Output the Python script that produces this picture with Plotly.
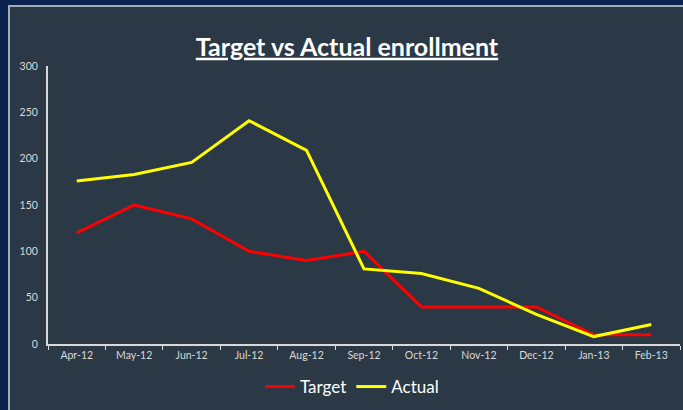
import plotly.graph_objects as go

months = ["Apr-12", "May-12", "Jun-12", "Jul-12", "Aug-12", "Sep-12",
          "Oct-12", "Nov-12", "Dec-12", "Jan-13", "Feb-13"]
target = [120, 150, 135, 100, 90, 100, 40, 40, 40, 10, 10]
actual = [176, 183, 196, 241, 209, 81, 76, 60, 32, 8, 21]
y_ticks = [0, 50, 100, 150, 200, 250, 300]

W, H = 683, 410
L, R, T, B = 48, 3, 66, 66
pw, ph = W - L - R, H - T - B

def px_x(p):
    return (p - L) / pw

def px_y(p):
    return (H - B - p) / ph

fig = go.Figure()
fig.add_trace(go.Scatter(x=months, y=target, mode="lines", name="Target",
                         line=dict(color="#ff0000", width=3)))
fig.add_trace(go.Scatter(x=months, y=actual, mode="lines", name="Actual",
                         line=dict(color="#ffff00", width=3)))

fig.add_shape(type="rect", xref="paper", yref="paper", layer="below",
              x0=px_x(9), x1=px_x(700), y0=px_y(430), y1=px_y(6),
              fillcolor="#2b3845", line=dict(color="#a3abb3", width=2))

fig.update_layout(
    width=W, height=H,
    margin=dict(l=L, r=R, t=T, b=B),
    paper_bgcolor="#0c2350",
    plot_bgcolor="rgba(0,0,0,0)",
    font=dict(family="Lato, Open Sans, sans-serif", color="#d9d9d9"),
    title=dict(text="<b>Target vs Actual enrollment</b>", x=px_x(347), xanchor="center",
               xref="paper", y=1 - 47 / H, yanchor="middle",
               font=dict(size=25, color="#ffffff", family="Lato, Open Sans, sans-serif",
                         lineposition="under")),
    showlegend=True,
    legend=dict(orientation="h", x=px_x(352), xanchor="center", y=px_y(387), yanchor="middle",
                font=dict(size=17, color="#ffffff"), bgcolor="rgba(0,0,0,0)",
                itemwidth=30, tracegroupgap=0),
    xaxis=dict(range=[-0.5, 10.5], showgrid=False, zeroline=False, showline=True,
               linecolor="#d9d9d9", linewidth=2,
               ticks="outside", tickson="boundaries", ticklen=4, tickcolor="#d9d9d9",
               tickfont=dict(size=10.5, color="#d9d9d9"), fixedrange=True),
    yaxis=dict(range=[0, 300], tickvals=y_ticks, showgrid=False, zeroline=False,
               showline=True, linecolor="#d9d9d9", linewidth=2, ticks="",
               tickfont=dict(size=10.5, color="#d9d9d9"), ticklabelstandoff=6, fixedrange=True),
)

fig.write_html("out.html", config={"displayModeBar": False},
               post_script="document.body.style.margin='0';document.body.style.background='#0c2350';")
